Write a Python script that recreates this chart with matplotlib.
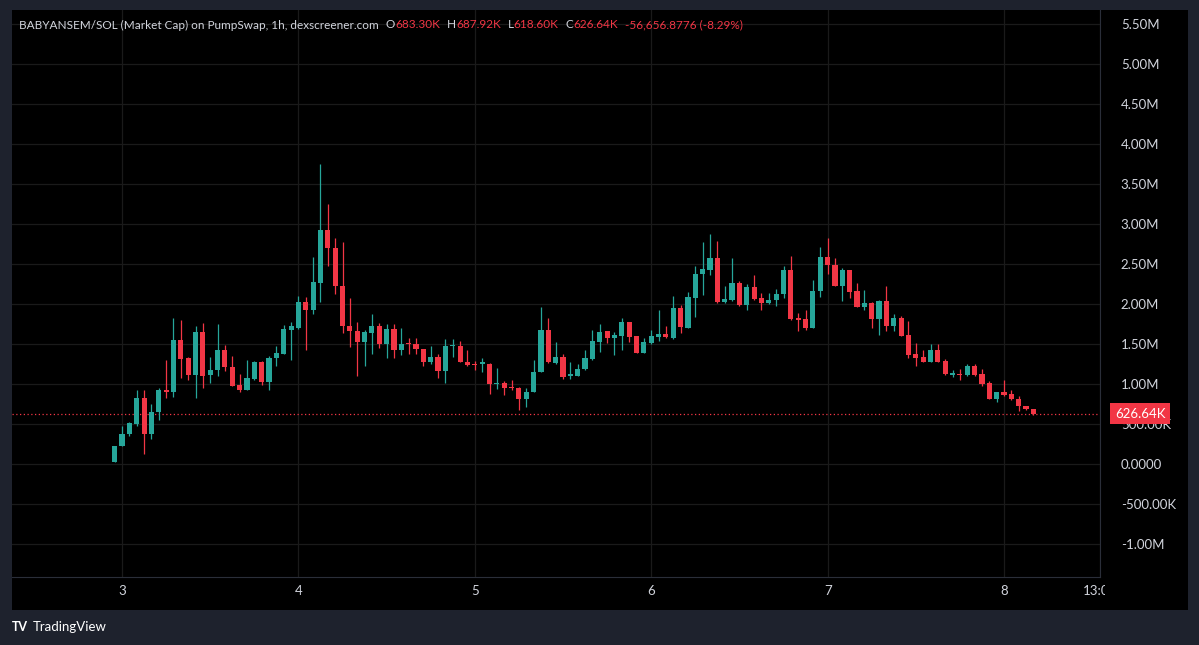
import numpy as np
import matplotlib
matplotlib.use('Agg')
from matplotlib import pyplot as plt
from matplotlib.patches import Rectangle
import matplotlib.transforms as mtransforms

plt.rcParams['font.family'] = ['Lato', 'DejaVu Sans']

# hourly candles, hours counted from day 3 00:00, values in millions
hours = np.arange(-1, 125)
opens = [0.03, 0.225, 0.37, 0.50, 0.82, 0.375, 0.65, 0.93, 0.90, 1.55, 1.32, 1.11, 1.65, 1.11, 1.18, 1.43,
         1.21, 0.99, 0.925, 1.06, 1.27, 1.02, 1.32, 1.38, 1.68, 1.70, 2.02, 1.92, 2.26, 2.93, 2.70,
         2.23, 1.73, 1.66, 1.53, 1.64, 1.73, 1.50, 1.69, 1.42, 1.51, 1.495, 1.44, 1.28, 1.34, 1.16, 1.47,
         1.48, 1.28, 1.25, 1.255, 1.255, 1.00, 1.01, 0.96, 0.955, 0.815, 0.90, 1.15, 1.67, 1.26, 1.34,
         1.10, 1.10, 1.19, 1.31, 1.53, 1.66, 1.58, 1.60, 1.77, 1.60, 1.39, 1.51, 1.585, 1.625, 1.58, 1.955,
         1.70, 2.08, 2.37, 2.43, 2.58, 2.03, 2.05, 2.26, 1.99, 2.21, 2.07, 2.01, 2.05, 2.12, 2.43,
         1.82, 1.81, 1.70, 2.16, 2.59, 2.49, 2.23, 2.42, 2.16, 1.96, 2.01, 1.81, 2.04, 1.72, 1.83, 1.61,
         1.37, 1.34, 1.28, 1.425, 1.29, 1.11, 1.13, 1.11, 1.22, 1.12, 1.01, 0.81, 0.895, 0.87, 0.81, 0.72,
         0.6833]
highs = [0.23, 0.47, 0.53, 0.93, 0.93, 0.75, 0.95, 1.30, 1.82, 1.80, 1.34, 1.73, 1.76, 1.34, 1.75, 1.49,
         1.35, 1.13, 1.30, 1.29, 1.29, 1.35, 1.47, 1.74, 1.78, 2.10, 2.09, 2.59, 3.75, 3.25, 2.82,
         2.77, 2.07, 1.77, 1.68, 1.87, 1.76, 1.75, 1.75, 1.70, 1.58, 1.58, 1.44, 1.47, 1.375, 1.56, 1.56,
         1.54, 1.43, 1.29, 1.32, 1.26, 1.20, 1.04, 1.05, 0.96, 0.955, 1.30, 1.96, 1.82, 1.53, 1.37,
         1.28, 1.25, 1.425, 1.675, 1.75, 1.66, 1.65, 1.82, 1.78, 1.60, 1.58, 1.675, 1.93, 1.72, 2.10, 1.99,
         2.15, 2.475, 2.77, 2.88, 2.79, 2.22, 2.58, 2.29, 2.25, 2.36, 2.14, 2.14, 2.19, 2.47, 2.60,
         1.89, 1.93, 2.30, 2.71, 2.83, 2.58, 2.445, 2.43, 2.26, 2.18, 2.02, 2.05, 2.22, 1.875, 1.85, 1.79,
         1.51, 1.42, 1.50, 1.50, 1.31, 1.18, 1.19, 1.25, 1.25, 1.19, 1.04, 0.90, 1.05, 0.925, 0.855, 0.73,
         0.68792]
lows = [0.02, 0.22, 0.35, 0.47, 0.125, 0.31, 0.55, 0.83, 0.84, 1.07, 1.05, 0.82, 0.95, 1.01, 1.10, 1.16,
        0.97, 0.90, 0.92, 1.05, 0.99, 0.92, 1.23, 1.37, 1.30, 1.69, 1.43, 1.88, 2.02, 2.475, 2.12,
        1.64, 1.46, 1.10, 1.22, 1.375, 1.445, 1.33, 1.32, 1.36, 1.375, 1.375, 1.225, 1.245, 1.07, 1.01, 1.335,
        1.27, 1.22, 1.17, 1.155, 0.88, 0.94, 0.86, 0.92, 0.68, 0.71, 0.90, 1.15, 1.26, 1.25, 1.06,
        1.06, 1.10, 1.175, 1.30, 1.40, 1.51, 1.36, 1.425, 1.53, 1.39, 1.39, 1.50, 1.54, 1.57, 1.56, 1.635,
        1.70, 1.84, 2.11, 2.36, 2.01, 2.01, 2.04, 1.975, 1.93, 2.05, 1.93, 2.00, 1.97, 2.07, 1.80,
        1.66, 1.675, 1.695, 2.09, 2.375, 2.22, 2.04, 2.07, 1.96, 1.93, 1.70, 1.61, 1.66, 1.66, 1.60, 1.33,
        1.23, 1.275, 1.27, 1.28, 1.11, 1.09, 1.05, 1.10, 1.10, 0.98, 0.81, 0.77, 0.855, 0.80, 0.665, 0.675,
        0.6186]
closes = [0.23, 0.38, 0.51, 0.83, 0.375, 0.65, 0.93, 0.90, 1.55, 1.31, 1.11, 1.65, 1.10, 1.18, 1.43, 1.21,
          0.98, 0.925, 1.07, 1.27, 1.02, 1.33, 1.39, 1.69, 1.72, 2.02, 1.92, 2.27, 2.93, 2.70, 2.22,
          1.73, 1.66, 1.53, 1.65, 1.725, 1.50, 1.69, 1.42, 1.50, 1.50, 1.44, 1.28, 1.34, 1.16, 1.475, 1.48,
          1.275, 1.24, 1.235, 1.27, 1.00, 1.015, 0.955, 0.945, 0.815, 0.90, 1.155, 1.67, 1.27, 1.34, 1.09,
          1.13, 1.19, 1.32, 1.54, 1.65, 1.57, 1.61, 1.77, 1.59, 1.39, 1.52, 1.60, 1.625, 1.585, 1.945, 1.71,
          2.09, 2.38, 2.44, 2.58, 2.03, 2.06, 2.26, 1.99, 2.21, 2.06, 2.01, 2.05, 2.13, 2.43, 1.81,
          1.80, 1.70, 2.16, 2.59, 2.49, 2.23, 2.43, 2.15, 1.96, 2.01, 1.81, 2.04, 1.72, 1.83, 1.60, 1.36,
          1.33, 1.28, 1.425, 1.28, 1.12, 1.14, 1.11, 1.22, 1.11, 1.00, 0.81, 0.895, 0.86, 0.81, 0.72, 0.683,
          0.62664]

day_ticks = [0, 24, 48, 72, 96, 120, 133]
day_labels = ['3', '4', '5', '6', '7', '8', '13:00']
price_ticks = [-1.0, -0.5, 0.0, 0.5, 1.0, 1.5, 2.0, 2.5, 3.0, 3.5, 4.0, 4.5, 5.0, 5.5]
price_labels = ['-1.00M', '-500.00K', '0.0000', '500.00K', '1.00M', '1.50M', '2.00M', '2.50M',
                '3.00M', '3.50M', '4.00M', '4.50M', '5.00M', '5.50M']

up_col = '#26a69a'
down_col = '#f23645'
txt_col = '#d1d4dc'
W, H = 1199, 645

fig = plt.figure(figsize=(W / 100, H / 100), dpi=100)
fig.patch.set_facecolor('#1e222d')

# black panel behind chart + scales
panel = fig.add_axes([12 / W, 1 - 610 / H, (1188 - 12) / W, 600 / H])
panel.set_facecolor('black')
panel.set_xticks([])
panel.set_yticks([])
for s in panel.spines.values():
    s.set_visible(False)

ax = fig.add_axes([12 / W, 1 - 577 / H, 1088 / W, 567 / H])
ax.set_facecolor('black')

o = np.array(opens)
c = np.array(closes)
hi = np.array(highs)
lo = np.array(lows)
cols = np.where(c >= o, up_col, down_col)

ax.vlines(hours, lo, hi, colors=cols, lw=0.9, zorder=3)
body_h = np.maximum(np.abs(c - o), 0.014)
ax.bar(hours, body_h, bottom=np.minimum(o, c), width=0.7, color=cols, lw=0, zorder=4)

last = closes[-1]
ax.axhline(last, color=down_col, lw=0.9, ls=(0, (1, 2)), zorder=2)

ax.set_xlim(-14.97, 133.06)
ax.set_ylim(-1.4125, 5.675)
ax.set_xticks(day_ticks)
ax.set_xticklabels(day_labels)
ax.set_yticks(price_ticks)
ax.set_yticklabels(price_labels)
ax.yaxis.tick_right()
ax.tick_params(axis='y', length=0, pad=15, labelsize=9.5, labelcolor=txt_col)
ax.tick_params(axis='x', length=0, pad=6, labelsize=9.5, labelcolor=txt_col)
for lbl in ax.get_yticklabels():
    lbl.set_horizontalalignment('left')
ax.grid(True, color='#1a1a1a', lw=0.9, zorder=0)
for k in ['top', 'left']:
    ax.spines[k].set_visible(False)
ax.spines['right'].set_color('#2a2e39')
ax.spines['bottom'].set_color('#2a2e39')

# "13:00" gets cut at the price scale edge
clip = Rectangle((0, 0), 1105 / W, 1, transform=fig.transFigure)
ax.get_xticklabels()[-1].set_clip_path(clip)

# last price tag
trans = mtransforms.blended_transform_factory(ax.transAxes, ax.transData)
ax.text(1 + 15 / 1088, last, '626.64K', transform=trans, ha='left', va='center', fontsize=9.5,
        color='white', zorder=10, clip_on=False,
        bbox=dict(boxstyle='square,pad=0.35', fc=down_col, ec='none'))

# header, pieces placed one after the other
hy = 1 - 25 / H
parts = [('BABYANSEM/SOL (Market Cap) on PumpSwap, 1h, dexscreener.com', txt_col, 7),
         ('O', txt_col, 0), ('683.30K', down_col, 7),
         ('H', txt_col, 0), ('687.92K', down_col, 7),
         ('L', txt_col, 0), ('618.60K', down_col, 7),
         ('C', txt_col, 0), ('626.64K', down_col, 7),
         ('-56,656.8776 (-8.29%)', down_col, 0)]
renderer = fig.canvas.get_renderer()
px = 19
for s, col, gap in parts:
    t = fig.text(px / W, hy, s, color=col, fontsize=8.5, va='center')
    px = t.get_window_extent(renderer).x1 + gap

# footer logo
fig.text(12 / W, 1 - 627 / H, 'TV', color='white', fontsize=9, fontweight='bold', va='center')
fig.text(33 / W, 1 - 627 / H, 'TradingView', color='white', fontsize=9.5, va='center')

plt.savefig('out.png', dpi=100, facecolor=fig.get_facecolor())
